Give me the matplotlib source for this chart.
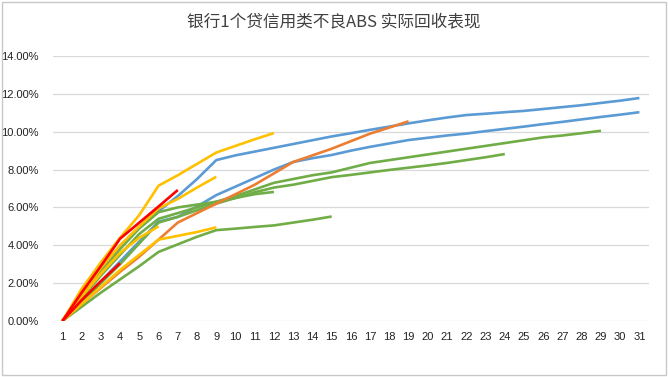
import matplotlib.pyplot as plt
from matplotlib.patches import Rectangle
from matplotlib.ticker import FuncFormatter

plt.rcParams['font.family'] = ['Liberation Sans', 'Noto Sans CJK SC', 'DejaVu Sans']

title = "银行1个贷信用类不良ABS 实际回收表现"
months = list(range(1, 32))

# recovery rate (%) per period, each series starts at period 1
blue_1 = [0, 1.4, 2.7, 3.9, 4.9, 5.8, 6.6, 7.5, 8.5, 8.75, 8.95, 9.15, 9.35, 9.55, 9.75, 9.92,
          10.1, 10.27, 10.44, 10.6, 10.75, 10.88, 10.95, 11.03, 11.1, 11.2, 11.3, 11.4, 11.52, 11.64, 11.78]
blue_2 = [0, 1.1, 2.1, 3.15, 4.2, 5.25, 5.5, 6.05, 6.65, 7.1, 7.55, 8.0, 8.4, 8.6, 8.77, 9.0,
          9.2, 9.38, 9.56, 9.68, 9.8, 9.9, 10.03, 10.15, 10.27, 10.4, 10.52, 10.65, 10.78, 10.9, 11.03]
orange_1 = [0, 0.9, 1.75, 2.6, 3.4, 4.3, 5.2, 5.7, 6.2, 6.7, 7.2, 7.8, 8.4, 8.75, 9.1, 9.5, 9.9, 10.22, 10.55]
green_1 = [0, 1.2, 2.4, 3.5, 4.6, 5.4, 5.7, 6.0, 6.3, 6.6, 6.95, 7.3, 7.5, 7.7, 7.85, 8.1, 8.35,
           8.5, 8.65, 8.8, 8.95, 9.1, 9.25, 9.4, 9.55, 9.7, 9.8, 9.92, 10.05]
green_2 = [0, 1.0, 2.0, 3.0, 4.1, 5.2, 5.5, 5.85, 6.2, 6.5, 6.8, 7.05, 7.2, 7.4, 7.6, 7.72,
           7.85, 7.98, 8.1, 8.22, 8.35, 8.5, 8.65, 8.82]
green_3 = [0, 1.3, 2.6, 3.8, 4.9, 5.75, 6.0, 6.15, 6.3, 6.5, 6.7, 6.82]
green_4 = [0, 0.75, 1.5, 2.2, 2.9, 3.65, 4.05, 4.45, 4.8, 4.88, 4.97, 5.05, 5.2, 5.35, 5.52]
yellow_1 = [0, 1.7, 3.1, 4.4, 5.6, 7.15, 7.7, 8.3, 8.9, 9.25, 9.6, 9.93]
yellow_2 = [0, 1.4, 2.8, 4.0, 5.0, 5.95, 6.45, 7.05, 7.62]
yellow_3 = [0, 1.3, 2.5, 3.6, 4.4, 5.0]
yellow_4 = [0, 0.9, 1.8, 2.7, 3.5, 4.3, 4.5, 4.7, 4.95]
red_1 = [0, 1.5, 2.9, 4.35, 5.2, 6.05, 6.92]
red_2 = [0, 1.1, 2.1, 3.05]

BLUE = '#5B9BD5'
ORANGE = '#ED7D31'
GREEN = '#70AD47'
YELLOW = '#FFC000'
RED = '#FF0000'

series = [
    (blue_1, BLUE), (blue_2, BLUE), (green_1, GREEN), (green_2, GREEN),
    (green_3, GREEN), (green_4, GREEN), (orange_1, ORANGE),
    (yellow_1, YELLOW), (yellow_2, YELLOW), (yellow_3, YELLOW), (yellow_4, YELLOW),
    (red_2, RED), (red_1, RED),
]

fig = plt.figure(figsize=(6.68, 3.77), dpi=100)
ax = fig.add_axes([0.079, 0.1485, 0.8926, 0.703])

for vals, col in series:
    ax.plot(months[:len(vals)], vals, color=col, lw=1.9, solid_capstyle='butt', zorder=3)

ax.set_xlim(0.5, 31.5)
ax.set_ylim(0, 14)
ax.set_yticks(range(0, 15, 2))
ax.set_xticks(months)
ax.yaxis.set_major_formatter(FuncFormatter(lambda v, p: '%.2f%%' % v))
ax.grid(axis='y', color='#D9D9D9', lw=0.9, zorder=0)
ax.tick_params(length=0, labelsize=8, colors='#222222')
ax.tick_params(axis='y', pad=10)
ax.tick_params(axis='x', pad=8)
for s in ax.spines.values():
    s.set_visible(False)

fig.text(0.5, 0.94, title, ha='center', va='center', fontsize=12, color='#404040',
         family=['Noto Sans CJK SC', 'DejaVu Sans'])

fig.patches.append(Rectangle((0.003, 0.005), 0.994, 0.99, transform=fig.transFigure,
                             fill=False, ec='#C8C8C8', lw=1))

fig.savefig('out.png', dpi=100)
